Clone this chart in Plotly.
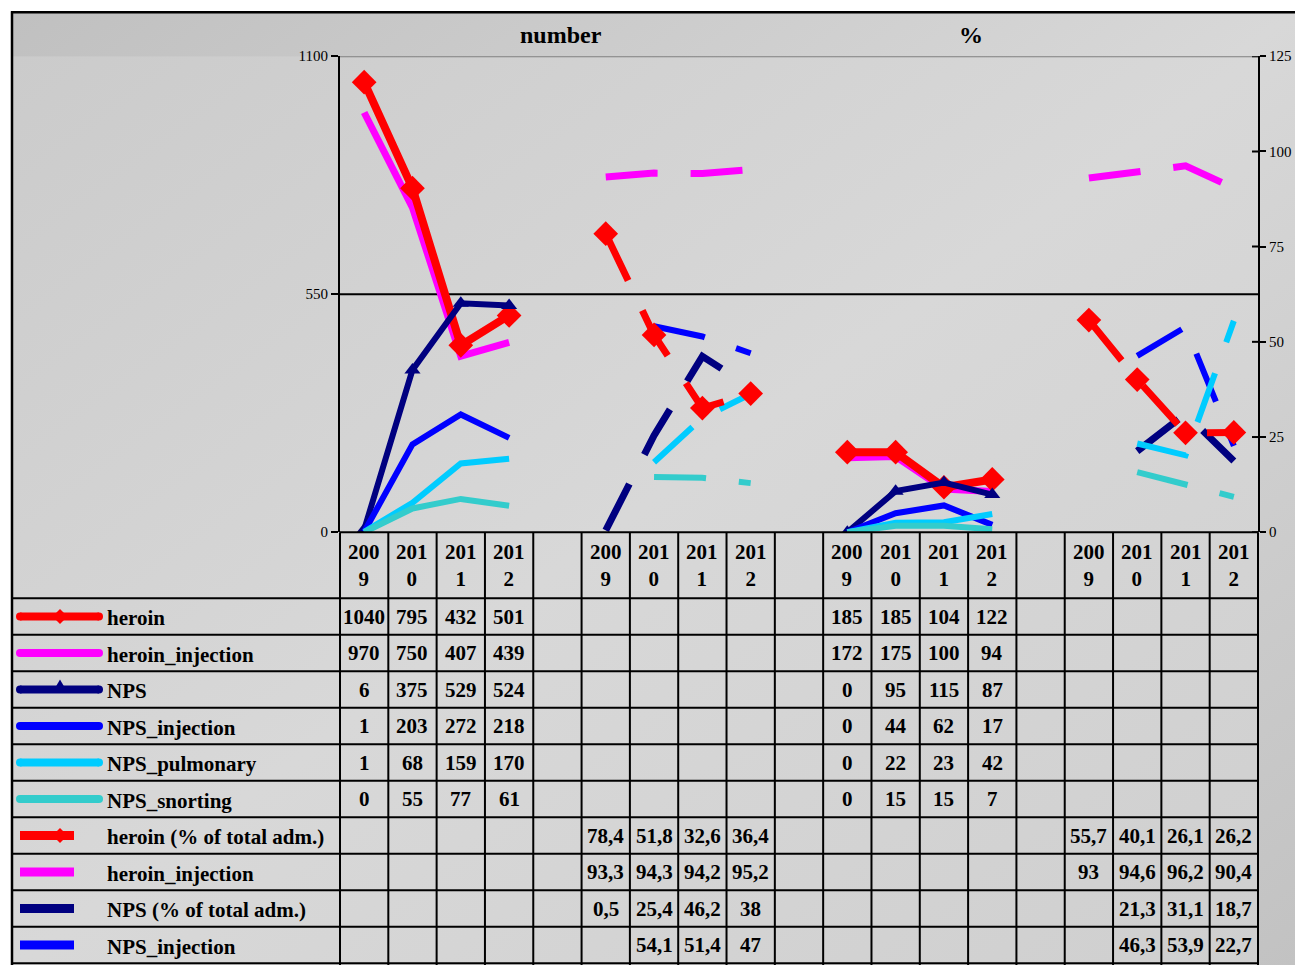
import base64
import plotly.graph_objects as go

W = 1295
FIG_H = 975              # figure height in px
Y_OFF, Y_SCALE = 7.8, 0.9835   # page placement of the figure
FONT = "Liberation Serif, Times New Roman, serif"

years = ["2009", "2010", "2011", "2012"]

# Admissions, absolute numbers (first block, second block)
heroin_n_a = [1040, 795, 432, 501]
heroin_inj_n_a = [970, 750, 407, 439]
nps_n_a = [6, 375, 529, 524]
nps_inj_n_a = [1, 203, 272, 218]
nps_pulm_n_a = [1, 68, 159, 170]
nps_snort_n_a = [0, 55, 77, 61]

heroin_n_b = [185, 185, 104, 122]
heroin_inj_n_b = [172, 175, 100, 94]
nps_n_b = [0, 95, 115, 87]
nps_inj_n_b = [0, 44, 62, 17]
nps_pulm_n_b = [0, 22, 23, 42]
nps_snort_n_b = [0, 15, 15, 7]

# Admissions, percentages (first block, second block)
heroin_p_a = [78.4, 51.8, 32.6, 36.4]
heroin_inj_p_a = [93.3, 94.3, 94.2, 95.2]
nps_p_a = [0.5, 25.4, 46.2, 38]
nps_inj_p_a = [None, 54.1, 51.4, 47]
nps_pulm_p_a = [None, 18.4, 30.0, 36.3]
nps_snort_p_a = [None, 14.5, 14.3, 12.9]

heroin_p_b = [55.7, 40.1, 26.1, 26.2]
heroin_inj_p_b = [93, 94.6, 96.2, 90.4]
nps_p_b = [None, 21.3, 31.1, 18.7]
nps_inj_p_b = [None, 46.3, 53.9, 22.7]
nps_pulm_p_b = [None, 23.3, 20.2, 55.5]
nps_snort_p_b = [None, 15.8, 12.7, 9.3]

left_ticks = [0, 550, 1100]
right_ticks = [0, 25, 50, 75, 100, 125]

NCOL = 19
NUM_A, PCT_A, NUM_B, PCT_B = 0, 5, 10, 15


def place(a, b, start_a, start_b):
    out = [None] * NCOL
    for i, v in enumerate(a):
        out[start_a + i] = v
    for i, v in enumerate(b):
        out[start_b + i] = v
    return out


def fmt(v):
    return "" if v is None else f"{v:g}".replace(".", ",")


def px(x):
    return x / W


def py(y):
    # page y (px) -> paper fraction
    return 1 - ((y - Y_OFF) / Y_SCALE) / FIG_H


def dy(h):
    # page height (px) -> paper fraction
    return (h / Y_SCALE) / FIG_H


RED, MAG, NAVY, BLUE, CYAN, TURQ = "#FF0000", "#FF00FF", "#000080", "#0000FF", "#00CCFF", "#33CCCC"

number_series = [
    dict(name="heroin", v=place(heroin_n_a, heroin_n_b, NUM_A, NUM_B), c=RED, w=8, m="diamond"),
    dict(name="heroin_injection", v=place(heroin_inj_n_a, heroin_inj_n_b, NUM_A, NUM_B), c=MAG, w=7, m=None),
    dict(name="NPS", v=place(nps_n_a, nps_n_b, NUM_A, NUM_B), c=NAVY, w=6, m="triangle-up"),
    dict(name="NPS_injection", v=place(nps_inj_n_a, nps_inj_n_b, NUM_A, NUM_B), c=BLUE, w=6, m=None),
    dict(name="NPS_pulmonary", v=place(nps_pulm_n_a, nps_pulm_n_b, NUM_A, NUM_B), c=CYAN, w=6, m=None),
    dict(name="NPS_snorting", v=place(nps_snort_n_a, nps_snort_n_b, NUM_A, NUM_B), c=TURQ, w=6, m=None),
]
pct_series = [
    dict(name="heroin (% of total adm.)", v=place(heroin_p_a, heroin_p_b, PCT_A, PCT_B), c=RED, w=7, m="diamond"),
    dict(name="heroin_injection", v=place(heroin_inj_p_a, heroin_inj_p_b, PCT_A, PCT_B), c=MAG, w=7, m=None),
    dict(name="NPS (% of total adm.)", v=place(nps_p_a, nps_p_b, PCT_A, PCT_B), c=NAVY, w=7, m=None),
    dict(name="NPS_injection", v=place(nps_inj_p_a, nps_inj_p_b, PCT_A, PCT_B), c=BLUE, w=6, m=None),
    dict(name="NPS_pulmonary", v=place(nps_pulm_p_a, nps_pulm_p_b, PCT_A, PCT_B), c=CYAN, w=6, m=None),
    dict(name="NPS_snorting", v=place(nps_snort_p_a, nps_snort_p_b, PCT_A, PCT_B), c=TURQ, w=6, m=None),
]

xs = list(range(NCOL))
fig = go.Figure()


def add_series(s, axis, dash):
    mk = dict(symbol=s["m"] or "circle", size=(19 if s["m"] == "diamond" else 14),
              color=s["c"], line=dict(width=0))
    fig.add_trace(go.Scatter(
        x=xs, y=s["v"], yaxis=axis, name=s["name"],
        mode="lines+markers" if s["m"] else "lines",
        line=dict(color=s["c"], width=s["w"], dash=dash),
        marker=mk, connectgaps=False, showlegend=False, hoverinfo="skip",
    ))


# drawing order: later traces on top
for idx in [1, 0, 2, 3, 4, 5]:
    add_series(number_series[idx], "y", "solid")
for idx in [1, 2, 3, 4, 5, 0]:
    add_series(pct_series[idx], "y2", "52px,33px")


# ---- background fills (diagonal gradients) ----
def gradient_svg(c0, c1, c2):
    svg = (
        '<svg xmlns="http://www.w3.org/2000/svg" width="100" height="100" '
        'viewBox="0 0 100 100" preserveAspectRatio="none">'
        '<defs><linearGradient id="g" x1="0" y1="0" x2="1" y2="1">'
        f'<stop offset="0" stop-color="{c0}"/><stop offset="0.5" stop-color="{c1}"/>'
        f'<stop offset="1" stop-color="{c2}"/></linearGradient></defs>'
        '<rect width="100" height="100" fill="url(#g)"/></svg>'
    )
    return "data:image/svg+xml;base64," + base64.b64encode(svg.encode()).decode()


BOTTOM = 965
images = [
    dict(source=gradient_svg("#c0c0c0", "#d8d8d8", "#c2c2c2"), xref="paper", yref="paper",
         x=px(12), y=py(12), sizex=(W - 12) / W, sizey=py(12),
         xanchor="left", yanchor="top", sizing="stretch", layer="below"),
    dict(source=gradient_svg("#cbcbcb", "#d8d8d8", "#cfcfcf"), xref="paper", yref="paper",
         x=px(12), y=py(56), sizex=(1258 - 12) / W, sizey=py(56),
         xanchor="left", yanchor="top", sizing="stretch", layer="below"),
]

shapes = []
annotations = []


def hline(x0, x1, y, color="black", width=2, layer="above"):
    shapes.append(dict(type="line", xref="paper", yref="paper", x0=px(x0), x1=px(x1),
                       y0=py(y), y1=py(y), line=dict(color=color, width=width), layer=layer))


def vline(x, y0, y1, color="black", width=2, layer="above"):
    shapes.append(dict(type="line", xref="paper", yref="paper", x0=px(x), x1=px(x),
                       y0=py(y0), y1=py(y1), line=dict(color=color, width=width), layer=layer))


# plot-area reference lines on the left scale
shapes.append(dict(type="line", xref="paper", yref="y", x0=px(340), x1=px(1258), y0=550, y1=550,
                   line=dict(color="black", width=2), layer="below"))
shapes.append(dict(type="line", xref="paper", yref="y", x0=px(340), x1=px(1258), y0=1100, y1=1100,
                   line=dict(color="#7f7f7f", width=2), layer="below"))
# inner half of the crossing ticks on the right scale
for t in right_ticks:
    shapes.append(dict(type="line", xref="paper", yref="y2", x0=px(1252), x1=px(1258), y0=t, y1=t,
                       line=dict(color="black", width=2)))

# chart border
hline(11, W, 12, width=2.5)
vline(12, 11, BOTTOM + 20, width=2.5)

# ---- data table ----
X0, X1 = 340, 1258
CW = (X1 - X0) / NCOL
ROW_TOP, ROW_H = 598, 36.5
hline(X0, X1, 532)
for k in range(11):
    hline(12, X1, ROW_TOP + ROW_H * k)
for k in range(NCOL + 1):
    vline(X0 + CW * k, 532, BOTTOM + 20)

tfont = dict(family=FONT, size=21, color="black", weight="bold")

year_cols = [(NUM_A, years), (PCT_A, years), (NUM_B, years), (PCT_B, years)]
for start, ys in year_cols:
    for i, yr in enumerate(ys):
        annotations.append(dict(x=start + i, xref="x", y=py(565), yref="paper",
                                text=f"{yr[:3]}<br>{yr[3:]}", showarrow=False,
                                xanchor="center", yanchor="middle", font=tfont))

table_rows = number_series + pct_series[:4]
for r, s in enumerate(table_rows):
    cy = ROW_TOP + ROW_H * (r + 0.5)
    for col, v in enumerate(s["v"]):
        if v is None:
            continue
        annotations.append(dict(x=col, xref="x", y=py(cy), yref="paper", text=fmt(v),
                                showarrow=False, xanchor="center", yanchor="middle", font=tfont))
    annotations.append(dict(x=px(105), xref="paper", y=py(cy + 1.5), yref="paper", text=s["name"],
                            showarrow=False, xanchor="left", yanchor="middle", font=tfont))
    # legend key
    if r < 6:
        shapes.append(dict(type="line", xref="paper", yref="paper", x0=px(20), x1=px(99),
                           y0=py(cy), y1=py(cy), line=dict(color=s["c"], width=8)))
        for xe in (20, 99):
            shapes.append(dict(type="circle", xref="paper", yref="paper", x0=px(xe - 4), x1=px(xe + 4),
                               y0=py(cy - 4), y1=py(cy + 4), fillcolor=s["c"], line=dict(width=0)))
    else:
        shapes.append(dict(type="rect", xref="paper", yref="paper", x0=px(20), x1=px(74),
                           y0=py(cy - 4.5), y1=py(cy + 4.5), fillcolor=s["c"], line=dict(width=0)))
    if s["m"] == "diamond":
        d = 7.5
        path = (f"M {px(60)},{py(cy - d)} L {px(60 + d)},{py(cy)} L {px(60)},{py(cy + d)} "
                f"L {px(60 - d)},{py(cy)} Z")
        shapes.append(dict(type="path", xref="paper", yref="paper", path=path,
                           fillcolor=s["c"], line=dict(width=0)))
    elif s["m"] == "triangle-up":
        path = (f"M {px(60)},{py(cy - 10)} L {px(67)},{py(cy + 2)} L {px(53)},{py(cy + 2)} Z")
        shapes.append(dict(type="path", xref="paper", yref="paper", path=path,
                           fillcolor=s["c"], line=dict(width=0)))

# block titles
title_font = dict(family=FONT, size=24, color="black", weight="bold")
annotations.append(dict(x=px(561), y=py(35), xref="paper", yref="paper", text="number",
                        showarrow=False, xanchor="center", yanchor="middle", font=title_font))
annotations.append(dict(x=px(971), y=py(35), xref="paper", yref="paper", text="%",
                        showarrow=False, xanchor="center", yanchor="middle", font=title_font))

fig.update_layout(
    width=W, height=FIG_H, autosize=False,
    margin=dict(l=0, r=0, t=0, b=0),
    paper_bgcolor="white",
    plot_bgcolor="rgba(0,0,0,0)",
    images=images,
    shapes=shapes,
    annotations=annotations,
    xaxis=dict(domain=[px(X0), px(X1)], range=[-0.5, NCOL - 0.5], showticklabels=False,
               showgrid=False, zeroline=False, showline=False, fixedrange=True),
    yaxis=dict(domain=[py(532), py(56)], range=[0, 1100], tickvals=left_ticks,
               ticks="outside", ticklen=7, tickwidth=2, tickcolor="black",
               showline=True, linewidth=2, linecolor="black", showgrid=False, zeroline=False,
               tickfont=dict(family=FONT, size=15, color="black"), fixedrange=True),
    yaxis2=dict(overlaying="y", side="right", anchor="x", range=[0, 125], tickvals=right_ticks,
                ticks="outside", ticklen=6, tickwidth=2, tickcolor="black",
                showline=True, linewidth=2, linecolor="black", showgrid=False, zeroline=False,
                tickfont=dict(family=FONT, size=15, color="black"), fixedrange=True),
)

fig.write_html("out.html", config={"displayModeBar": False})
